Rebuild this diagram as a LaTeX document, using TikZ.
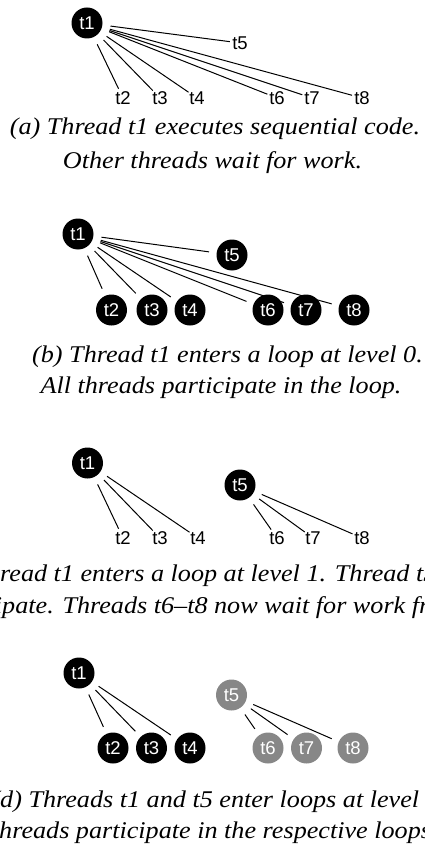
\documentclass[tikz,border=0pt]{standalone}
\usepackage{fontspec}
\setmainfont{Liberation Serif}[FakeStretch=1.09]
\newfontfamily\lblfont{Liberation Sans}
\definecolor{tgray}{gray}{0.53}
\begin{document}
\begin{tikzpicture}[x=1pt,y=-1pt,
  thr/.style={circle, fill=black, text=white, minimum size=31pt, inner sep=0pt,
    font=\lblfont\fontsize{18.5}{18.5}\selectfont},
  gthr/.style={thr, fill=tgray},
  lbl/.style={circle, minimum size=18pt, inner sep=0pt,
    font=\lblfont\fontsize{18.5}{18.5}\selectfont},
  link/.style={draw, line width=1pt, shorten <=8pt, shorten >=7.5pt},
  llink/.style={draw, line width=1pt, shorten <=8pt},
  captxt/.style={font=\itshape\fontsize{24}{33}\selectfont, inner sep=0pt, anchor=base}]
\useasboundingbox (0,0) rectangle (425,845);
\clip (0,0) rectangle (425,845);
% ---------- panel (a)
\node[thr] (a1) at (87,23) {t1};
\node[lbl] (a2) at (123,98) {t2};
\node[lbl] (a3) at (160,98) {t3};
\node[lbl] (a4) at (197,98) {t4};
\node[lbl] (a5) at (240,43) {t5};
\node[lbl] (a6) at (277,98) {t6};
\node[lbl] (a7) at (312,98) {t7};
\node[lbl] (a8) at (362,98) {t8};
\foreach \i in {2,...,8} \path[llink] (a1) -- (a\i);
\node[captxt] (capa1) at (215,135) {(a) Thread t1 executes sequential code.};
\node[captxt] (capa2) at (212.5,168) {Other threads wait for work.};
% ---------- panel (b)
\node[thr] (b1) at (78,234) {t1};
\node[thr] (b2) at (111.5,310) {t2};
\node[thr] (b3) at (152,310) {t3};
\node[thr] (b4) at (190,310) {t4};
\node[thr] (b5) at (232,255) {t5};
\node[thr] (b6) at (268,310) {t6};
\node[thr] (b7) at (306,310) {t7};
\node[thr] (b8) at (354,310) {t8};
\foreach \i in {2,...,8} \path[link] (b1) -- (b\i);
\node[captxt] (capb1) at (227.5,362) {(b) Thread t1 enters a loop at level 0.};
\node[captxt] (capb2) at (221,393) {All threads participate in the loop.};
% ---------- panel (c)
\node[thr] (c1) at (87.5,463) {t1};
\node[lbl] (c2) at (123,538) {t2};
\node[lbl] (c3) at (160,538) {t3};
\node[lbl] (c4) at (198,538) {t4};
\node[thr] (c5) at (240,485) {t5};
\node[lbl] (c6) at (277,538) {t6};
\node[lbl] (c7) at (313,538) {t7};
\node[lbl] (c8) at (362,538) {t8};
\foreach \i in {2,3,4} \path[llink] (c1) -- (c\i);
\foreach \i in {6,7,8} \path[llink] (c5) -- (c\i);
\node[captxt, anchor=base west] (capc1) at (0,581) {\llap{(c) Th}read t1 enters a loop at level 1. Thread t5 does not};
\node[captxt, anchor=base west] (capc2) at (2,613) {\llap{partici}pate. Threads t6–t8 now wait for work from t5.};
% ---------- panel (d)
\node[thr] (d1) at (79,673) {t1};
\node[thr] (d2) at (113,748) {t2};
\node[thr] (d3) at (151.5,748) {t3};
\node[thr] (d4) at (190,748) {t4};
\node[gthr] (d5) at (231.5,695) {t5};
\node[gthr] (d6) at (268,748) {t6};
\node[gthr] (d7) at (306.5,748) {t7};
\node[gthr] (d8) at (353,748) {t8};
\foreach \i in {2,3,4} \path[link] (d1) -- (d\i);
\foreach \i in {6,7,8} \path[link] (d5) -- (d\i);
\node[captxt, anchor=base west] (capd1) at (0,807) {\llap{(}d) Threads t1 and t5 enter loops at level 1.};
\node[captxt, anchor=base west] (capd2) at (-1,838) {\llap{All t}hreads participate in the respective loops.};
\end{tikzpicture}
\end{document}
